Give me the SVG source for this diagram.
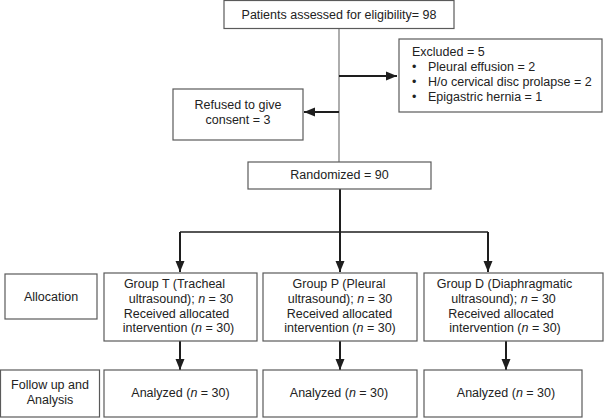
<svg xmlns="http://www.w3.org/2000/svg" width="606" height="419" viewBox="0 0 606 419">
<style>
.box{fill:#fff;stroke:#5a5a5a;stroke-width:1.2}
.t{font-family:"Liberation Sans",Arial,sans-serif;font-size:12.5px;fill:#222}
.c{text-anchor:middle}
.ln{stroke:#1e1e1e;stroke-width:2;fill:none}
.thin{stroke:#777;stroke-width:1.2;fill:none}
</style>
<defs>
<marker id="ah" markerUnits="userSpaceOnUse" markerWidth="12" markerHeight="12" viewBox="0 0 12 12" refX="11" refY="6" orient="auto">
<path d="M0,1.5 L11,6 L0,10.5 Z" fill="#1e1e1e"/>
</marker>
</defs>
<rect width="606" height="419" fill="#fff"/>
<g id="connectors">
<line class="thin" x1="339" y1="28" x2="339" y2="162"/>
<line class="ln" x1="339" y1="76" x2="397" y2="76" marker-end="url(#ah)"/>
<line class="ln" x1="339" y1="112" x2="304" y2="112" marker-end="url(#ah)"/>
<line class="ln" x1="340" y1="189" x2="340" y2="232"/>
<line x1="180" y1="232" x2="488" y2="232" style="stroke:#1e1e1e;stroke-width:1.5"/>
<line class="ln" x1="180" y1="232" x2="180" y2="272" marker-end="url(#ah)"/>
<line class="ln" x1="340" y1="232" x2="340" y2="272" marker-end="url(#ah)"/>
<line class="ln" x1="488" y1="232" x2="488" y2="272" marker-end="url(#ah)"/>
<line class="ln" x1="180" y1="341" x2="180" y2="370" marker-end="url(#ah)"/>
<line class="ln" x1="340" y1="341" x2="340" y2="370" marker-end="url(#ah)"/>
<line class="ln" x1="506" y1="341" x2="506" y2="370" marker-end="url(#ah)"/>
</g>
<g id="assessed">
<rect class="box" x="224" y="0.5" width="230" height="28"/>
<text class="t c" x="339" y="19">Patients assessed for eligibility= 98</text>
</g>
<g id="excluded">
<rect class="box" x="399" y="39" width="203" height="73"/>
<text class="t" x="412" y="56">Excluded = 5</text>
<text class="t" x="412" y="71">•</text><text class="t" x="428" y="71">Pleural effusion = 2</text>
<text class="t" x="412" y="86">•</text><text class="t" x="428" y="86">H/o cervical disc prolapse = 2</text>
<text class="t" x="412" y="101">•</text><text class="t" x="428" y="101">Epigastric hernia = 1</text>
</g>
<g id="refused">
<rect class="box" x="173" y="89" width="130" height="51"/>
<text class="t c" x="238" y="109">Refused to give</text>
<text class="t c" x="238" y="124">consent = 3</text>
</g>
<g id="randomized">
<rect class="box" x="248" y="162" width="183" height="27"/>
<text class="t c" x="339.5" y="179">Randomized = 90</text>
</g>
<g id="allocation">
<rect class="box" x="5" y="274" width="92" height="45"/>
<text class="t c" x="51" y="301">Allocation</text>
</g>
<g id="groupT">
<rect class="box" x="104" y="273" width="153" height="68"/>
<text class="t c" x="174.5" y="288">Group T (Tracheal</text>
<text class="t c" x="181" y="303">ultrasound); <tspan font-style="italic">n</tspan> = 30</text>
<text class="t c" x="176.5" y="317.5">Received allocated</text>
<text class="t c" x="178.5" y="332">intervention (<tspan font-style="italic">n</tspan> = 30)</text>
</g>
<g id="groupP">
<rect class="box" x="263" y="273" width="154" height="68"/>
<text class="t c" x="339" y="288">Group P (Pleural</text>
<text class="t c" x="340" y="303">ultrasound); <tspan font-style="italic">n</tspan> = 30</text>
<text class="t c" x="339.5" y="317.5">Received allocated</text>
<text class="t c" x="340" y="332">intervention (<tspan font-style="italic">n</tspan> = 30)</text>
</g>
<g id="groupD">
<rect class="box" x="424" y="273" width="179" height="68"/>
<text class="t c" x="504.5" y="288">Group D (Diaphragmatic</text>
<text class="t c" x="503.5" y="303">ultrasound); <tspan font-style="italic">n</tspan> = 30</text>
<text class="t c" x="501" y="317.5">Received allocated</text>
<text class="t c" x="505" y="332">intervention (<tspan font-style="italic">n</tspan> = 30)</text>
</g>
<g id="followup">
<rect class="box" x="0.5" y="370" width="99" height="47"/>
<text class="t c" x="50" y="389">Follow up and</text>
<text class="t c" x="50" y="404">Analysis</text>
</g>
<g id="analyzedT">
<rect class="box" x="104" y="370" width="153" height="47"/>
<text class="t c" x="180.5" y="397">Analyzed (<tspan font-style="italic">n</tspan> = 30)</text>
</g>
<g id="analyzedP">
<rect class="box" x="263" y="370" width="154" height="47"/>
<text class="t c" x="339" y="397">Analyzed (<tspan font-style="italic">n</tspan> = 30)</text>
</g>
<g id="analyzedD">
<rect class="box" x="424" y="370" width="158" height="47"/>
<text class="t c" x="506" y="397">Analyzed (<tspan font-style="italic">n</tspan> = 30)</text>
</g>
</svg>
